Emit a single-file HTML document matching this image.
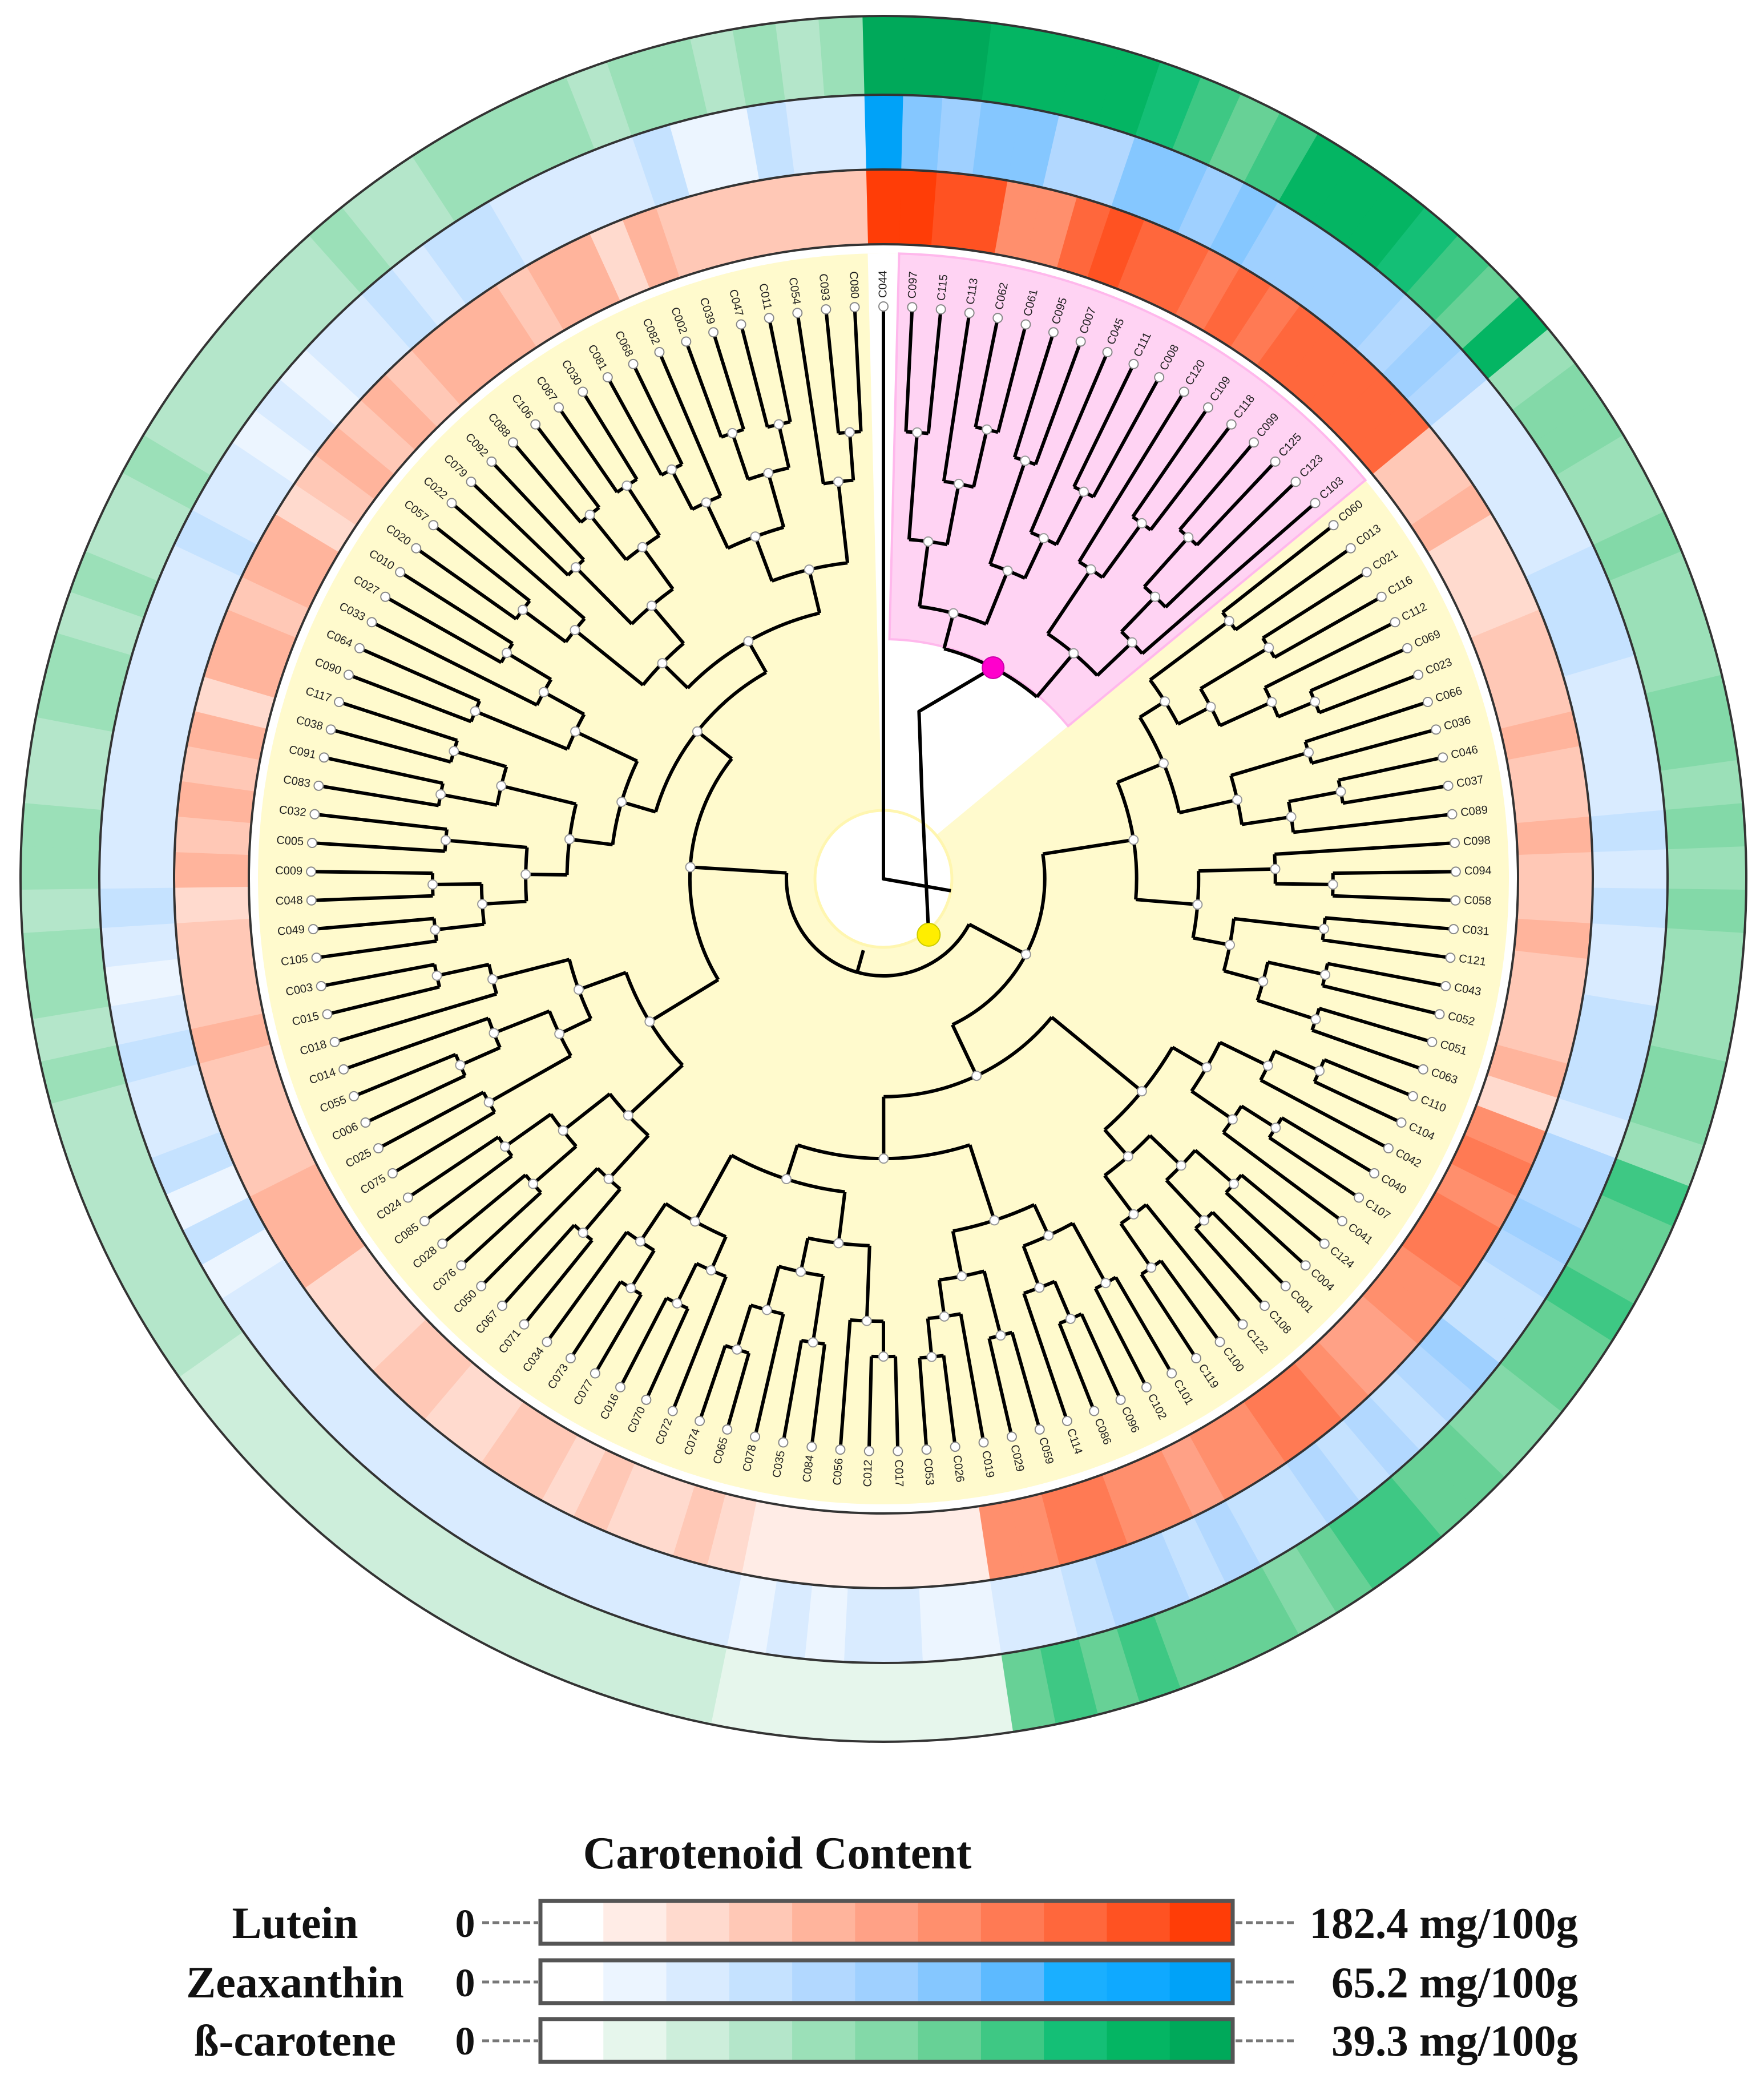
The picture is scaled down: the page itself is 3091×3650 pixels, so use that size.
<!DOCTYPE html>
<html><head><meta charset="utf-8"><style>
html,body{margin:0;padding:0;background:#fff;}
svg{display:block;}
</style></head><body>
<svg id="s" xmlns="http://www.w3.org/2000/svg" width="3091" height="3650" viewBox="0 0 3091 3650">
<rect width="3091" height="3650" fill="#fff"/>
<g id="rings"></g>
<g id="tree"></g>
<g font-family="Liberation Serif, serif" font-weight="bold" fill="#111">
<text x="1362" y="3274" font-size="80" text-anchor="middle">Carotenoid Content</text>
<text x="517" y="3396" font-size="78" text-anchor="middle">Lutein</text>
<text x="517" y="3500" font-size="78" text-anchor="middle">Zeaxanthin</text>
<text x="517" y="3602" font-size="78" text-anchor="middle">ß-carotene</text>
<text x="815" y="3394" font-size="70" text-anchor="middle">0</text>
<text x="815" y="3498" font-size="70" text-anchor="middle">0</text>
<text x="815" y="3600" font-size="70" text-anchor="middle">0</text>
<text x="2765" y="3396" font-size="77" text-anchor="end">182.4 mg/100g</text>
<text x="2765" y="3500" font-size="77" text-anchor="end">65.2 mg/100g</text>
<text x="2765" y="3602" font-size="77" text-anchor="end">39.3 mg/100g</text>
</g>
<g id="legend"></g>
</svg>
<script>
var NS="http://www.w3.org/2000/svg";
function el(p,t,a,txt){var e=document.createElementNS(NS,t);for(var k in a)e.setAttribute(k,a[k]);if(txt!==undefined)e.textContent=txt;p.appendChild(e);return e;}
var CX=1548,CY=1540;
var R=["#ffffff","#ffece6","#ffdace","#ffc8b6","#ffb49c","#ffa186","#ff8f6d","#ff7a54","#ff673c","#ff5222","#ff3d07"];
var B=["#ffffff","#ecf5ff","#d9ebff","#c5e2ff","#b2d8ff","#9fd0ff","#85c7ff","#5dbaff","#1aafff","#0fa9ff","#00a2f8"];
var G=["#ffffff","#e6f6ec","#cdeedb","#b4e6ca","#9be0b8","#83d9a8","#67d196","#3ec884","#14bf76","#04b563","#00a95a"];
var L="C044 C097 C115 C113 C062 C061 C095 C007 C045 C111 C008 C120 C109 C118 C099 C125 C123 C103 C060 C013 C021 C116 C112 C069 C023 C066 C036 C046 C037 C089 C098 C094 C058 C031 C121 C043 C052 C051 C063 C110 C104 C042 C040 C107 C041 C124 C004 C001 C108 C122 C100 C119 C101 C102 C096 C086 C114 C059 C029 C019 C026 C053 C017 C012 C056 C084 C035 C078 C065 C074 C072 C070 C016 C077 C073 C034 C071 C067 C050 C076 C028 C085 C024 C075 C025 C006 C055 C014 C018 C015 C003 C105 C049 C048 C009 C005 C032 C083 C091 C038 C117 C090 C064 C033 C027 C010 C020 C057 C022 C079 C092 C088 C106 C087 C030 C081 C068 C082 C002 C039 C047 C011 C054 C093 C080".split(" ");
var N=L.length, DA=360/N;
var seed=7;function rnd(){seed=(seed*9301+49297)%233280;return seed/233280;}
function pt(a,r){var t=a*Math.PI/180;return [CX+r*Math.sin(t),CY-r*Math.cos(t)];}
function sector(a1,a2,r1,r2){var p1=pt(a1,r2),p2=pt(a2,r2),p3=pt(a2,r1),p4=pt(a1,r1);var lg=(a2-a1)>180?1:0;
return "M"+p1+" A"+r2+" "+r2+" 0 "+lg+" 1 "+p2+" L"+p3+" A"+r1+" "+r1+" 0 "+lg+" 0 "+p4+"Z";}
var lr=[],lb=[],lg=[];
var pr=[10,10,9,9,6,6,8,9,8,8,7,8,7,8,8,8,8,8],pb=[10,6,5,6,6,4,4,6,6,5,6,5,5,5,5,4,5,4],pg=[10,10,10,9,9,9,9,8,7,6,7,9,9,9,8,7,6,9];
var mr=[6,7,6,7,7,6,6,5,5,6,7,7,6,6,5,6,6,7,7,6,6],mb=[4,4,5,4,3,3,5,4,3,4,3,4,3,3,4,3,4,4,3,2,2],mg=[7,6,6,7,6,6,5,5,6,6,7,7,6,5,6,6,6,7,6,7,6];
for(var i=0;i<N;i++){var r,b,g;
 if(i<18){r=pr[i];b=pb[i];g=pg[i];}
 else if(i<39){r=rnd()<0.5?3:4;if(rnd()<0.2)r=2;b=rnd()<0.6?2:3;g=rnd()<0.5?4:5;}
 else if(i<60){r=mr[i-39];b=mb[i-39];g=mg[i-39];}
 else if(i<67){r=1;b=rnd()<0.5?1:2;g=1;}
 else if(i<82){r=rnd()<0.5?2:3;b=2;g=2;}
 else {r=rnd()<0.5?3:4;if(rnd()<0.15)r=2;b=rnd()<0.75?2:3;if(rnd()<0.1)b=1;g=rnd()<0.5?3:4;}
 lr.push(r);lb.push(b);lg.push(g);}
var rings=document.getElementById("rings");
var RG=[1112,1243,1374,1512];
for(var i=0;i<N;i++){var a=i*DA;
 el(rings,"path",{d:sector(a-DA/2,a+DA/2+0.05,RG[0],RG[1]),fill:R[lr[i]]});
 el(rings,"path",{d:sector(a-DA/2,a+DA/2+0.05,RG[1],RG[2]),fill:B[lb[i]]});
 el(rings,"path",{d:sector(a-DA/2,a+DA/2+0.05,RG[2],RG[3]),fill:G[lg[i]]});}
RG.forEach(function(r){el(rings,"circle",{cx:CX,cy:CY,r:r,fill:"none",stroke:"#333", "stroke-width":4});});
var tree=document.getElementById("tree");
el(tree,"circle",{cx:CX,cy:CY,r:1096,fill:"#fffacd"});
el(tree,"path",{d:sector(-DA/2,17*DA+DA/2,0,1096),fill:"#fff"});
el(tree,"path",{d:sector(DA/2,17*DA+DA/2,420,1096),fill:"#ffd3f3",stroke:"#ffb8ec","stroke-width":4});
el(tree,"circle",{cx:CX,cy:CY,r:120,fill:"#fff",stroke:"#fff6b0","stroke-width":5});
var lines=[],nodes=[];
function build(lo,hi){if(lo==hi)return {a:lo*DA,r:1000,h:0,leaf:true};
 var f=0.3+rnd()*0.4;var m=lo+Math.max(0,Math.min(hi-lo-1,Math.floor((hi-lo)*f)));
 var c1=build(lo,m),c2=build(m+1,hi);return {c:[c1,c2],a:(c1.a+c2.a)/2,h:Math.max(c1.h,c2.h)+1};}
function assign(n,rmin,rmax,hmax){if(n.leaf)return;n.r=n.r||rmin+(rmax-rmin)*(1-n.h/hmax);
 n.c.forEach(function(c){if(!c.leaf){c.r=n.r+(1000-n.r)*(1-c.h/n.h)*0.55+ (1000-n.r)*0.1*rnd(); if(c.r>975)c.r=975;}assign(c,rmin,rmax,hmax);});}
var pink=build(1,17);pink.r=417;assign(pink,417,960,pink.h);
var rest=build(18,N-1);rest.r=170;assign(rest,170,960,rest.h);
function draw(n){if(n.leaf)return;
 var a1=Math.min(n.c[0].a,n.c[1].a),a2=Math.max(n.c[0].a,n.c[1].a);
 var p1=pt(a1,n.r),p2=pt(a2,n.r);
 lines.push("M"+p1+" A"+n.r+" "+n.r+" 0 "+((a2-a1)>180?1:0)+" 1 "+p2);
 n.c.forEach(function(c){var q1=pt(c.a,n.r),q2=pt(c.a,c.r);lines.push("M"+q1+" L"+q2);draw(c);if(!c.leaf)nodes.push(pt(c.a,c.r));});}
draw(pink);draw(rest);
lines.push("M"+pt(0,1000)+" L"+CX+","+CY+" L"+pt(100,120));
lines.push("M"+pt(pink.a,417)+" L"+pt(12,300)+" L"+pt(25,160)+" L"+pt(141,126));
lines.push("M"+pt(rest.a,170)+" L"+pt(rest.a,130));
el(tree,"path",{d:lines.join(" "),fill:"none",stroke:"#000","stroke-width":6,"stroke-linejoin":"round"});
nodes.forEach(function(p){el(tree,"circle",{cx:p[0],cy:p[1],r:8,fill:"#fff",stroke:"#999","stroke-width":2});});
for(var i=0;i<N;i++){var a=i*DA,p=pt(a,1003);
 el(tree,"circle",{cx:p[0],cy:p[1],r:8,fill:"#fff",stroke:"#888","stroke-width":2});
 var q=pt(a,1018);var rot,anc;
 if(a<=180){rot=a-90;anc="start";}else{rot=a+90;anc="end";}
 el(tree,"text",{x:q[0],y:q[1],"font-size":20,"font-family":"Liberation Sans, sans-serif",fill:"#222","text-anchor":anc,"dominant-baseline":"middle",transform:"rotate("+rot+" "+q[0]+" "+q[1]+")"},L[i]);}
var pm=pt(pink.a,417);el(tree,"circle",{cx:pm[0],cy:pm[1],r:19,fill:"#f0c",stroke:"#c0a","stroke-width":2});
var py=pt(141,126);el(tree,"circle",{cx:py[0],cy:py[1],r:20,fill:"#ffee00",stroke:"#cc0","stroke-width":2});
var lgd=document.getElementById("legend");
[[R,3331],[B,3435],[G,3538]].forEach(function(o){var w=(2160-947)/11;
 for(var k=0;k<11;k++)el(lgd,"rect",{x:947+k*w,y:o[1],width:w+1,height:75,fill:o[0][k]});
 el(lgd,"rect",{x:947,y:o[1],width:1213,height:75,fill:"none",stroke:"#555","stroke-width":7});
 var yy=o[1]+38;
 el(lgd,"line",{x1:845,y1:yy,x2:943,y2:yy,stroke:"#777","stroke-width":5,"stroke-dasharray":"12 6"});
 el(lgd,"line",{x1:2165,y1:yy,x2:2268,y2:yy,stroke:"#777","stroke-width":5,"stroke-dasharray":"12 6"});});
</script>
</body></html>
